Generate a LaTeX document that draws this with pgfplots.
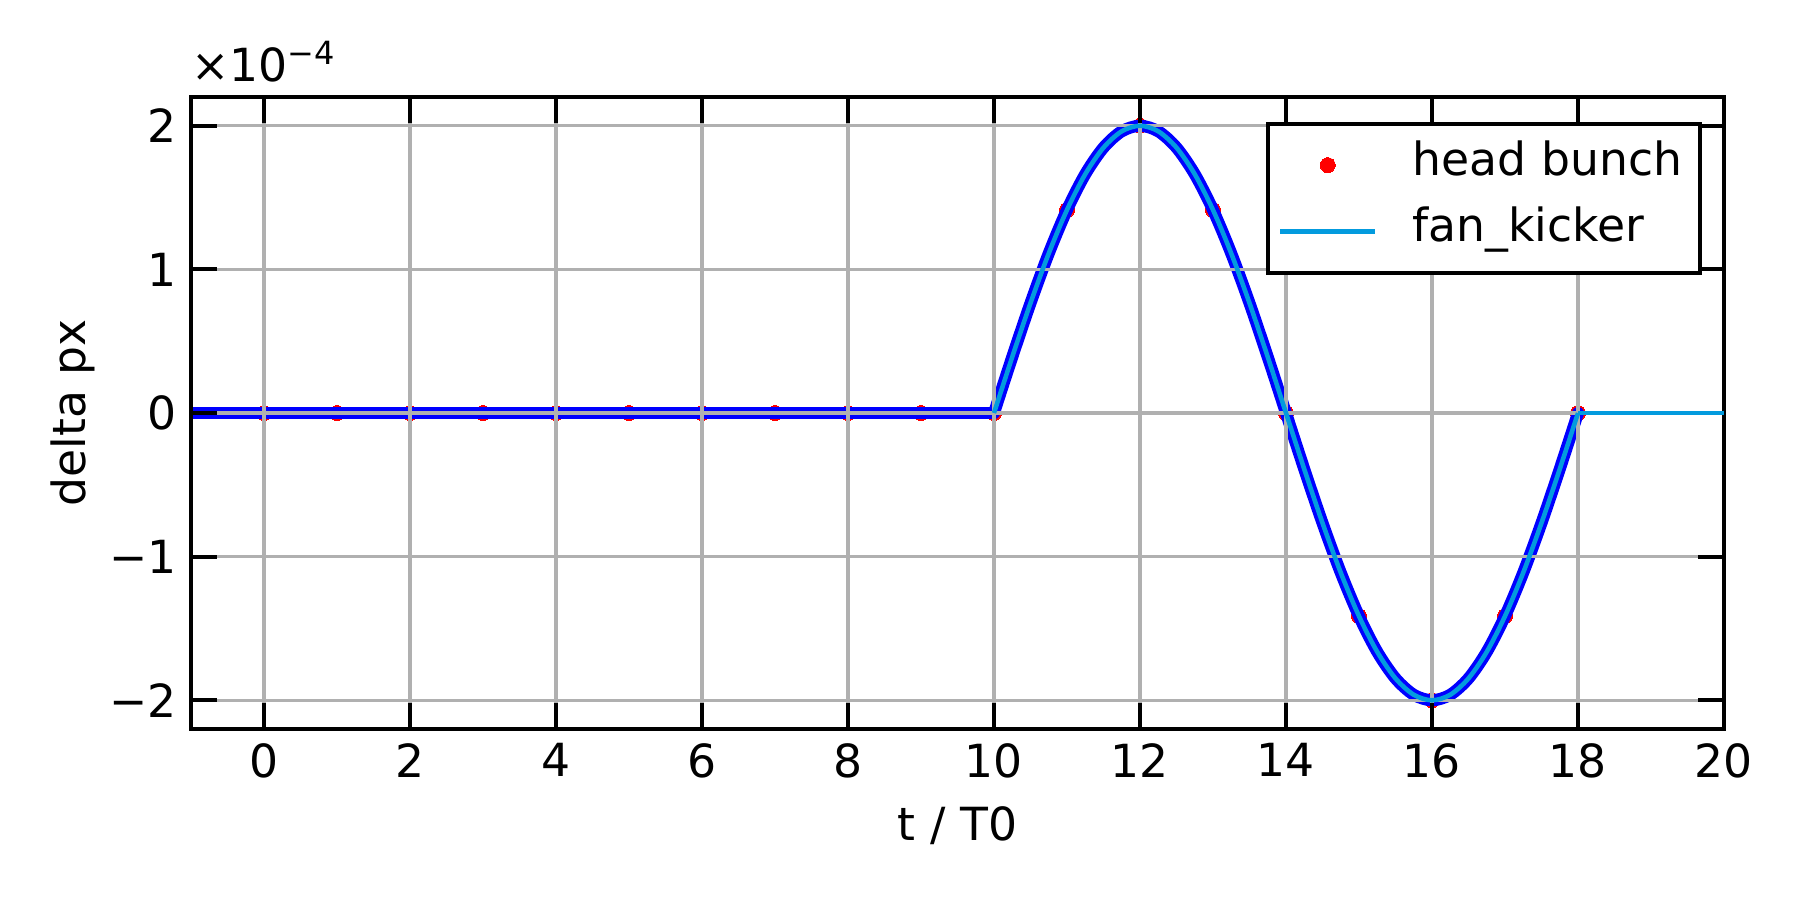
\documentclass[border=0pt]{standalone}
\usepackage{fontspec}
\setmainfont{DejaVu Sans}
\usepackage{pgfplots}
\usepackage{pgfplotstable}
\pgfplotsset{compat=1.18}
\definecolor{kickblue}{RGB}{3,155,222}
\definecolor{gridgray}{RGB}{176,176,176}

% head bunch, one point per turn
\pgfplotstableread{
t dpx
0 0
1 0
2 0
3 0
4 0
5 0
6 0
7 0
8 0
9 0
10 0
11 1.41421e-4
12 2e-4
13 1.41421e-4
14 0
15 -1.41421e-4
16 -2e-4
17 -1.41421e-4
18 0
}\headbunch

% kick waveform during the fan kicker pulse
\pgfplotstableread{
t dpx
10 0
10.25 0.39018e-4
10.5 0.76537e-4
10.75 1.11114e-4
11 1.41421e-4
11.25 1.66294e-4
11.5 1.84776e-4
11.75 1.96157e-4
12 2e-4
12.25 1.96157e-4
12.5 1.84776e-4
12.75 1.66294e-4
13 1.41421e-4
13.25 1.11114e-4
13.5 0.76537e-4
13.75 0.39018e-4
14 0
14.25 -0.39018e-4
14.5 -0.76537e-4
14.75 -1.11114e-4
15 -1.41421e-4
15.25 -1.66294e-4
15.5 -1.84776e-4
15.75 -1.96157e-4
16 -2e-4
16.25 -1.96157e-4
16.5 -1.84776e-4
16.75 -1.66294e-4
17 -1.41421e-4
17.25 -1.11114e-4
17.5 -0.76537e-4
17.75 -0.39018e-4
18 0
}\kick

\begin{document}
\begin{tikzpicture}[font=\fontsize{11}{13.2}\selectfont]
\begin{axis}[
  at={(0,0)}, anchor=south west,
  scale only axis, width=369.3pt, height=152.25pt,
  xmin=-1, xmax=20, ymin=-2.2e-4, ymax=2.2e-4,
  xtick={0,2,...,20},
  ytick={-2e-4,-1e-4,0,1e-4,2e-4},
  yticklabels={−2,−1,0,1,2},
  scaled y ticks=false,
  /pgf/number format/assume math mode=true,
  tick align=inside, xtick pos=both, ytick pos=both,
  major tick length=6.3pt,
  every tick/.style={black, line width=1pt},
  axis line style={line width=1pt},
  grid=major, major grid style={gridgray, line width=0.8pt},
  set layers=standard,
  clip marker paths=true,
  xlabel={t / T0}, ylabel={delta px},
  ylabel style={yshift=-3.4pt},
  legend cell align=left,
  legend image code/.code={\draw[mark repeat=2,mark phase=2,#1] plot coordinates {(0pt,0pt) (11.5pt,0pt) (23pt,0pt)};},
  legend style={at={(1,1)}, anchor=north east, xshift=-5.3pt, yshift=-5.9pt,
    draw=black, line width=1pt, fill=white, inner xsep=2.3pt, inner ysep=3pt,
    row sep=2pt,
    nodes={inner sep=2pt, text height=0.75em, text depth=0.25em},
    /tikz/every odd column/.append style={column sep=6.4pt}},
]
\addplot[on layer=axis background, only marks, mark=*, mark size=1.8pt,
  mark options={draw=red, fill=red, line width=0pt}] table[x=t, y=dpx] {\headbunch};
\addlegendentry{head bunch}
\addplot[on layer=axis background, blue, line width=2.9pt, forget plot]
  coordinates {(-1,0) (10,0)};
\addplot[on layer=axis background, blue, line width=2.9pt, line cap=round, smooth, forget plot]
  table[x=t, y=dpx] {\kick};
\addplot[kickblue, line width=1.1pt, smooth] table[x=t, y=dpx] {\kick};
\addlegendentry{fan\_kicker}
\addplot[kickblue, line width=1.1pt, forget plot] coordinates {(18,0) (20,0)};
\end{axis}
\node[anchor=south west, inner sep=0pt] at (-0.1pt,155.65pt) {×10\textsuperscript{−4}};
\path (-46.01pt,-41.19pt) rectangle ++(433.62pt,216.81pt);
\end{tikzpicture}
\end{document}
